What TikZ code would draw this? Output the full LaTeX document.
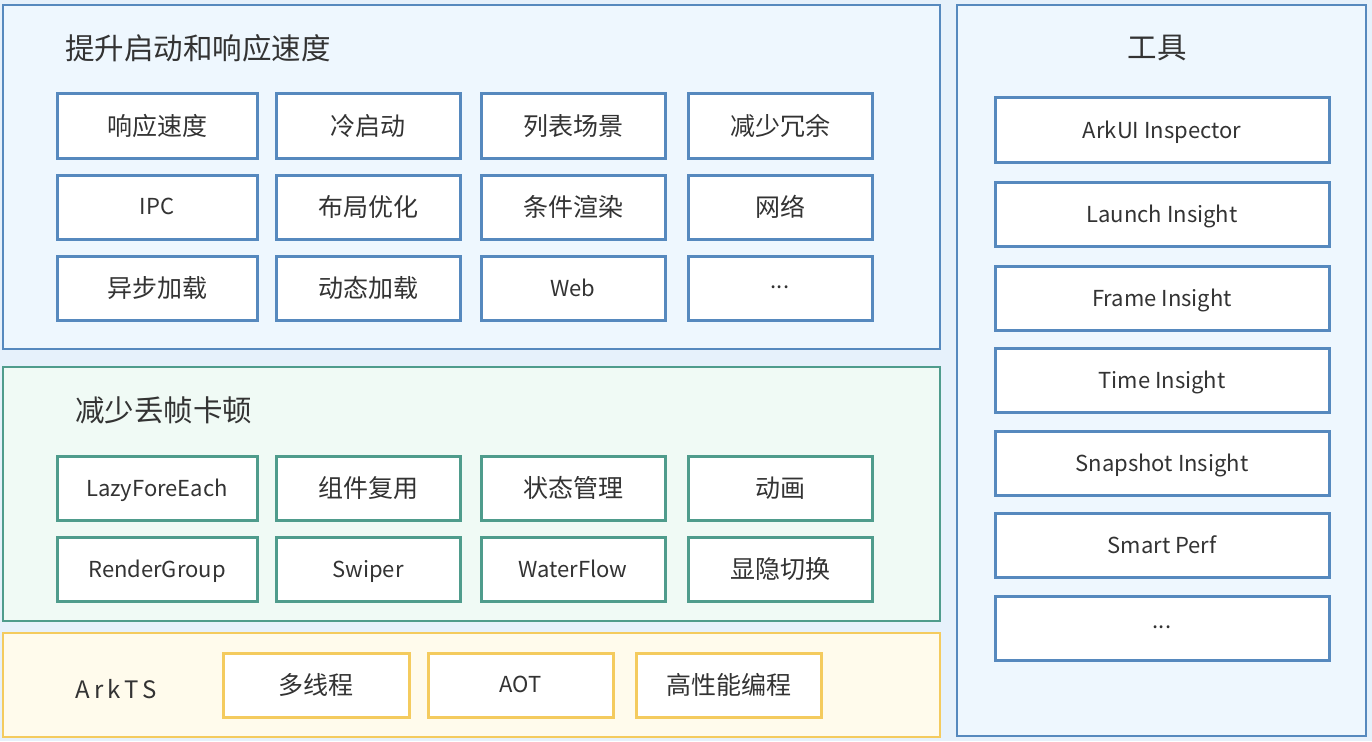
\documentclass[tikz,border=0pt]{standalone}
\usepackage{fontspec}
\setmainfont{Noto Sans CJK SC}
\newfontfamily\spacedfont[LetterSpace=18]{Noto Sans CJK SC}
\definecolor{bgc}{HTML}{E6F1FB}
\definecolor{bluefill}{HTML}{EEF7FE}
\definecolor{blueline}{HTML}{5689BE}
\definecolor{greenfill}{HTML}{F0FAF5}
\definecolor{greenline}{HTML}{4F9C8C}
\definecolor{yellowfill}{HTML}{FFFBEC}
\definecolor{yellowline}{HTML}{F4CB5E}
\definecolor{txt}{HTML}{333333}
\tikzset{
  panel/.style={draw, line width=2.5pt, inner sep=0pt, outer sep=0pt, anchor=north west},
  bpanel/.style={panel, draw=blueline, fill=bluefill},
  gpanel/.style={panel, draw=greenline, fill=greenfill},
  ypanel/.style={panel, draw=yellowline, fill=yellowfill},
  cell/.style={draw, line width=3pt, fill=white, inner sep=0pt, outer sep=0pt, text=txt, font=\fontsize{25}{29}\selectfont},
  bcell/.style={cell, draw=blueline},
  gcell/.style={cell, draw=greenline},
  ycell/.style={cell, draw=yellowline},
  lat/.style={font=\fontsize{22}{26}\selectfont, text depth=1pt},
  title/.style={text=txt, font=\fontsize{29.5}{34}\selectfont, inner sep=0pt},
}
\begin{document}
\begin{tikzpicture}[x=1pt,y=-1pt]
\useasboundingbox (0,0) rectangle (1372,741);
\fill[bgc] (0,0) rectangle (1372,741);
% panels
\node[bpanel, minimum width=937pt, minimum height=344pt] (p1) at (3,5) {};
\node[gpanel, minimum width=937pt, minimum height=254pt] (p2) at (3,367) {};
\node[ypanel, minimum width=937pt, minimum height=104pt] (p3) at (3,633) {};
\node[bpanel, minimum width=409pt, minimum height=731pt] (p4) at (957,5) {};
% titles
\node[title, anchor=west] (t1) at (65,48) {提升启动和响应速度};
\node[title, anchor=west] (t2) at (75,410) {减少丢帧卡顿};
\node[title] (t4) at (1157,48) {工具};
\node[text=txt, inner sep=0pt, anchor=west, font=\spacedfont\fontsize{24}{28}\selectfont] (t3) at (75,689) {ArkTS};
% top panel cells
\def\cA{157}\def\wA{200pt}
\def\cB{368}\def\wB{184pt}
\def\cC{573}\def\wC{184pt}
\def\cD{780}\def\wD{184pt}
\tikzset{r/.style={minimum height=64pt}}
\node[bcell, r, minimum width=\wA] (a1) at (\cA,126) {响应速度};
\node[bcell, r, minimum width=\wB] (a2) at (\cB,126) {冷启动};
\node[bcell, r, minimum width=\wC] (a3) at (\cC,126) {列表场景};
\node[bcell, r, minimum width=\wD] (a4) at (\cD,126) {减少冗余};
\node[bcell, r, lat, minimum width=\wA] (b1) at (\cA,207) {IPC};
\node[bcell, r, minimum width=\wB] (b2) at (\cB,207) {布局优化};
\node[bcell, r, minimum width=\wC] (b3) at (\cC,207) {条件渲染};
\node[bcell, r, minimum width=\wD] (b4) at (\cD,207) {网络};
\node[bcell, r, minimum width=\wA] (c1) at (\cA,288) {异步加载};
\node[bcell, r, minimum width=\wB] (c2) at (\cB,288) {动态加载};
\node[bcell, r, lat, minimum width=\wC] (c3) at (\cC,288) {Web};
\node[bcell, r, lat, minimum width=\wD] (c4) at (\cD,288) {...};
% green cells
\node[gcell, r, lat, minimum width=\wA] (d1) at (\cA,488) {LazyForeEach};
\node[gcell, r, minimum width=\wB] (d2) at (\cB,488) {组件复用};
\node[gcell, r, minimum width=\wC] (d3) at (\cC,488) {状态管理};
\node[gcell, r, minimum width=\wD] (d4) at (\cD,488) {动画};
\node[gcell, r, lat, minimum width=\wA] (e1) at (\cA,569) {RenderGroup};
\node[gcell, r, lat, minimum width=\wB] (e2) at (\cB,569) {Swiper};
\node[gcell, r, lat, minimum width=\wC] (e3) at (\cC,569) {WaterFlow};
\node[gcell, r, minimum width=\wD] (e4) at (\cD,569) {显隐切换};
% yellow cells
\node[ycell, r, minimum width=186pt] (f1) at (316,685) {多线程};
\node[ycell, r, lat, minimum width=185pt] (f2) at (520.5,685) {AOT};
\node[ycell, r, minimum width=185pt] (f3) at (728.5,685) {高性能编程};
% tools
\def\cT{1162}\def\wT{334pt}
\node[bcell, r, lat, minimum width=\wT] (g1) at (\cT,130) {ArkUI Inspector};
\node[bcell, r, lat, minimum width=\wT] (g2) at (\cT,214) {Launch Insight};
\node[bcell, r, lat, minimum width=\wT] (g3) at (\cT,298) {Frame Insight};
\node[bcell, r, lat, minimum width=\wT] (g4) at (\cT,380) {Time Insight};
\node[bcell, r, lat, minimum width=\wT] (g5) at (\cT,463) {Snapshot Insight};
\node[bcell, r, lat, minimum width=\wT] (g6) at (\cT,545) {Smart Perf};
\node[bcell, r, lat, minimum width=\wT] (g7) at (\cT,628) {...};
\end{tikzpicture}
\end{document}
